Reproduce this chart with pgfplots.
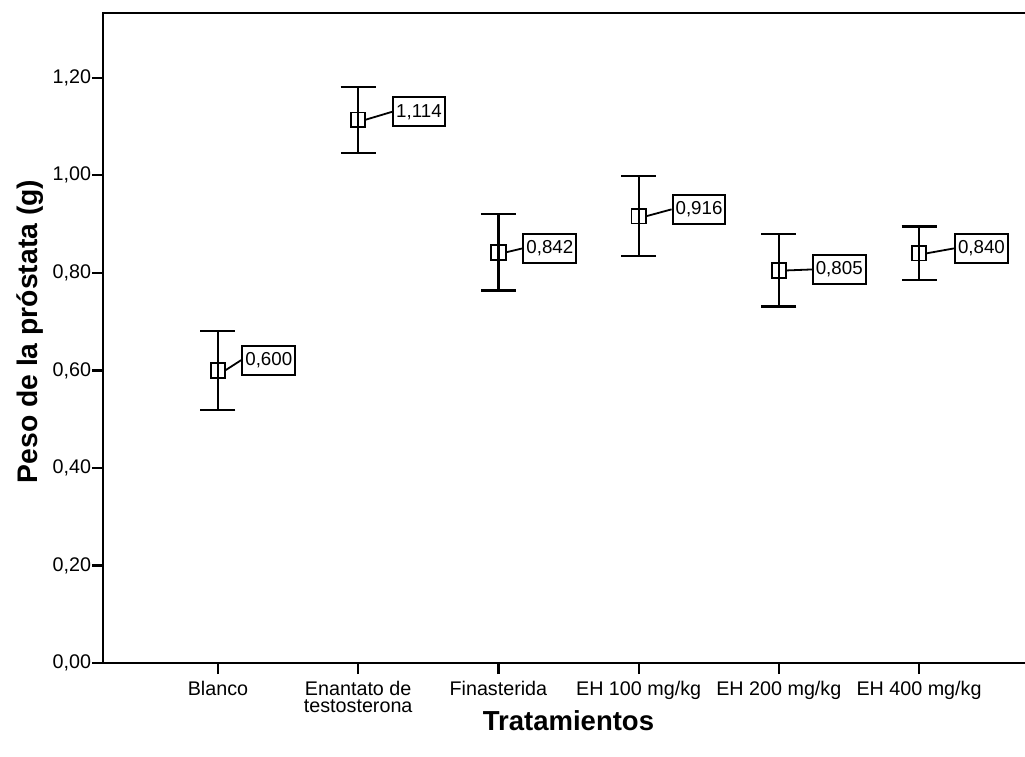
\documentclass[border=0pt]{standalone}
\usepackage{pgfplots}
\pgfplotsset{compat=1.18}
\usepackage{pgfplotstable}
\usepackage{fontspec}
\setmainfont{Liberation Sans}
\pgfplotstableread{
x y err dx dy
1 0.600 0.081 11.7 5.2
2 1.114 0.068 17.0 4.0
3 0.842 0.078 12.0 2.0
4 0.916 0.082 16.5 3.5
5 0.805 0.074 16.5 0.5
6 0.840 0.055 17.5 2.5
}\datatable
\begin{document}
\begin{tikzpicture}
\begin{axis}[
  at={(0,0)}, anchor=south west,
  scale only axis, width=465.5bp, height=325bp,
  xmin=0.18, xmax=6.82, ymin=0, ymax=1.333,
  clip=false,
  axis line style={line width=1.2bp},
  tick align=outside, major tick length=5.5bp,
  tick style={line width=1.1bp, black},
  xtick pos=bottom, ytick pos=left,
  xtick={1,2,3,4,5,6},
  xticklabels={Blanco, {Enantato de\\testosterona}, Finasterida, EH 100 mg/kg, EH 200 mg/kg, EH 400 mg/kg},
  xticklabel style={align=center, font=\fontsize{9.9}{8.6}\selectfont},
  ytick={0,0.2,0.4,0.6,0.8,1.0,1.2},
  /pgf/number format/assume math mode=true,
  yticklabel style={/pgf/number format/fixed, /pgf/number format/fixed zerofill, /pgf/number format/precision=2, /pgf/number format/use comma, font=\fontsize{9.9}{10}\selectfont, inner xsep=0.3bp},
  xlabel={\textbf{Tratamientos}},
  xlabel style={at={(axis description cs:0.5,0)}, anchor=base, yshift=-33.5bp, font=\fontsize{13.8}{15}\selectfont},
  ylabel={\textbf{Peso de la próstata (g)}},
  ylabel style={at={(axis description cs:-0.0784,0.51)}, anchor=center, font=\fontsize{14.2}{16}\selectfont},
]
\addplot[black, only marks, mark=square, mark size=3.6bp, mark options={line width=0.9bp, fill=none},
  error bars/.cd, y dir=both, y explicit,
  error bar style={line width=1.1bp, black},
  error mark options={rotate=90, mark size=8.75bp, line width=1.1bp, black},
  /pgfplots/.cd,
  point meta=y,
  nodes near coords={\pgfmathprintnumber[fixed, fixed zerofill, precision=3, use comma]{\pgfplotspointmeta}},
  visualization depends on={\thisrow{dx} \as \dx},
  visualization depends on={\thisrow{dy} \as \dy},
  every node near coord/.style={anchor=west, draw=black, line width=1bp, fill=white, inner xsep=1.5bp, inner ysep=0pt, minimum height=14.5bp, text=black, font=\fontsize{9.4}{10}\selectfont, xshift=\dx bp, yshift=\dy bp, append after command={(\tikzlastnode.west) edge[line width=0.9bp, black] ++({(3.6-\dx)*1bp},{-\dy*1bp})}},
] table[x=x, y=y, y error=err] {\datatable};
\end{axis}
\pgfresetboundingbox
\useasboundingbox (-51.5bp,-47bp) rectangle (461bp,331.5bp);
\end{tikzpicture}
\end{document}
